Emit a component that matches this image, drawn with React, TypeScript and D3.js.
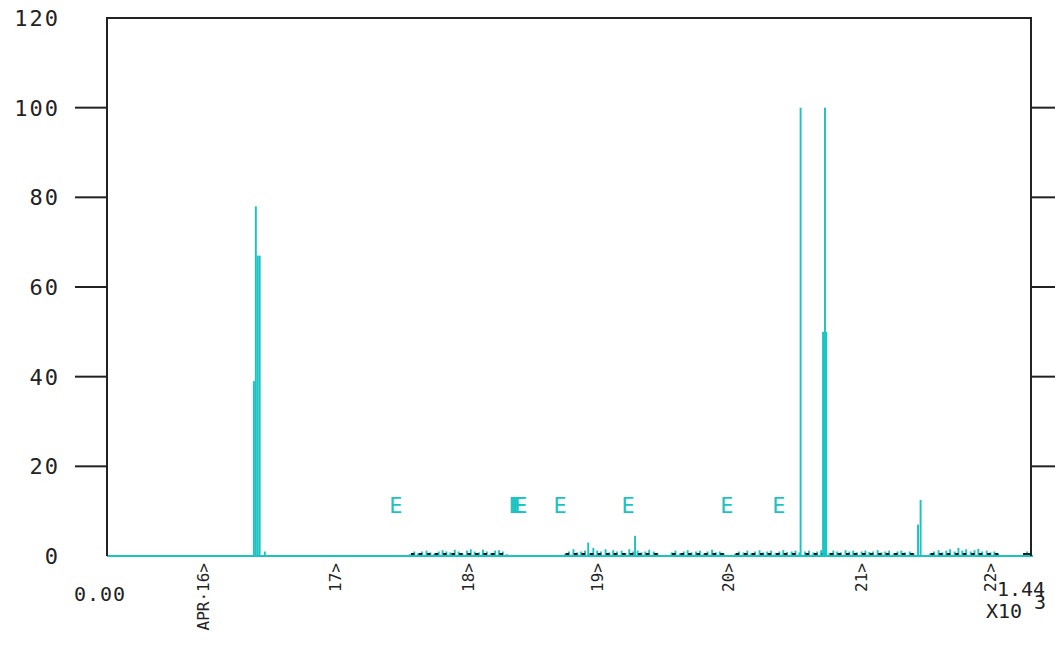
import React from "react";
import * as d3 from "d3";

const yTicks = [0, 20, 40, 60, 80, 100, 120];
const xTickPos = [150, 355, 562, 764, 968, 1175, 1376];
const xTickLabels = ["APR·16>", "17>", "18>", "19>", "20>", "21>", "22>"];

// main spikes: position (x units) and value
const spikeX = [229, 232, 235, 238, 246, 750, 823, 1081, 1116, 1119, 1121, 1264, 1268, 1434];
const spikeV = [39, 78, 67, 67, 1, 3, 4.5, 100, 50, 100, 50, 7, 12.5, 1];

// low-level noise
const noiseX = [
  472, 479, 485, 491, 498, 504, 510, 517, 523, 529, 535, 542, 548, 554, 561, 567, 573, 580, 586, 592, 598, 605, 611, 617, 623,
  714, 720, 727, 733, 739, 745, 752, 758, 764, 770, 777, 783, 789, 795, 802, 808, 814, 820, 827, 833, 839, 845, 852, 858,
  880, 886, 893, 899, 905, 911, 918, 924, 930, 936, 943, 949, 955, 961,
  979, 985, 992, 998, 1004, 1010, 1017, 1023, 1029, 1035, 1042, 1048, 1054, 1060, 1067, 1073, 1079,
  1088, 1094, 1101, 1107, 1113, 1119, 1126, 1132, 1138, 1144, 1151, 1157, 1163, 1169, 1176, 1182, 1188, 1194, 1201, 1207, 1213, 1219, 1226, 1232, 1238, 1244, 1251, 1257,
  1283, 1289, 1296, 1302, 1308, 1314, 1321, 1327, 1333, 1339, 1346, 1352, 1358, 1364, 1371, 1377, 1383, 1389,
];
const noiseV = [
  0.4, 1, 0.6, 1, 1.2, 0.8, 0.5, 1, 1.3, 1, 0.8, 1.4, 1, 0.6, 1.2, 1.5, 1, 0.8, 1.4, 1, 0.6, 1.2, 1.3, 1, 0.4,
  0.5, 1, 1.5, 0.8, 1, 1.2, 0.6, 1.8, 1.2, 1, 1.5, 0.8, 1.3, 1, 1.2, 0.7, 1.5, 1, 1.2, 0.8, 1, 1.4, 1, 0.6,
  0.8, 1.2, 0.6, 1, 1.3, 0.8, 1, 1.2, 0.5, 1, 1.4, 0.8, 1, 0.6,
  0.5, 1, 0.8, 1.2, 0.6, 1, 1.3, 0.8, 1, 1.2, 0.7, 1, 1.3, 0.9, 1, 1.2, 0.8,
  1, 1.2, 0.8, 1, 1.3, 1, 0.7, 1.2, 1, 0.8, 1.3, 1, 1.2, 0.8, 1, 1.2, 0.9, 1, 1.3, 0.8, 1, 1.2, 0.6, 1, 1.2, 0.8, 1, 0.6,
  0.6, 1, 1.3, 0.8, 1.2, 1.5, 1, 1.8, 1.2, 1.5, 1, 1.3, 1.6, 1, 1.2, 0.8, 1, 0.5,
];

// black baseline marks
const blackX = [
  476, 488, 501, 513, 526, 539, 551, 564, 576, 589, 601, 614,
  717, 730, 742, 755, 767, 780, 792, 805, 817, 830, 842, 855,
  883, 896, 908, 921, 933, 946, 958,
  982, 995, 1007, 1020, 1032, 1045, 1057, 1070,
  1091, 1104, 1116, 1129, 1141, 1154, 1166, 1179, 1191, 1204, 1216, 1229, 1241, 1254,
  1286, 1299, 1311, 1324, 1336, 1349, 1361, 1374, 1386, 1430, 1436,
];

// "E" event markers
const eventX = [450, 636, 639, 642, 645, 706, 812, 966, 1047];
const eventLevel = 11.4;

const CYAN = "#1cc3c3";
const INK = "#222";
const FONT = "'DejaVu Sans Mono', 'Liberation Mono', monospace";

export default function App() {
  const left = 107, right = 1031, top = 18, bottom = 556;
  const x = d3.scaleLinear().domain([0, 1440]).range([left, right]);
  const y = d3.scaleLinear().domain([0, 120]).range([bottom, top]);
  const binW = (u: number, w: number) => Math.max(1.6, x(u + w) - x(u));

  return (
    <svg width={1055} height={645} style={{ position: "absolute", left: 0, top: 0, background: "#fff" }}>
      <rect x={0} y={0} width={1055} height={645} fill="#fff" />
      {/* noise bars */}
      {noiseX.map((u, i) => (
        <rect key={"n" + i} x={x(u) - 1} y={y(noiseV[i])} width={binW(u, 3)} height={y(0) - y(noiseV[i])} fill={CYAN} />
      ))}
      {/* black marks */}
      {blackX.map((u, i) => (
        <rect key={"b" + i} x={x(u) - 1.5} y={y(0) - 3} width={3.5} height={2} fill="#111" />
      ))}
      {/* spikes */}
      {spikeX.map((u, i) => (
        <rect key={"s" + i} x={x(u) - 1} y={y(spikeV[i])} width={binW(u, 3)} height={y(0) - y(spikeV[i])} fill={CYAN} />
      ))}
      {/* baseline */}
      <line x1={left} x2={right + 2} y1={y(0)} y2={y(0)} stroke={CYAN} strokeWidth={2} />
      {/* frame */}
      <path d={`M${left},${bottom} V${top} H${right} V${bottom}`} fill="none" stroke={INK} strokeWidth={2} />
      <line x1={right - 6} x2={right} y1={bottom - 2} y2={bottom - 2} stroke={INK} strokeWidth={2} />
      {/* y ticks */}
      {yTicks.filter((t) => t > 0 && t < 120).map((t) => (
        <g key={"yt" + t}>
          <line x1={75} x2={left} y1={y(t)} y2={y(t)} stroke={INK} strokeWidth={2} />
          <line x1={right} x2={1055} y1={y(t)} y2={y(t)} stroke={INK} strokeWidth={2} />
        </g>
      ))}
      {yTicks.map((t) => (
        <text key={"yl" + t} x={60} y={y(t)} dy="0.36em" textAnchor="end" fontFamily={FONT} fontSize={22} letterSpacing={2} fill={INK}>
          {t}
        </text>
      ))}
      {/* x labels */}
      <text x={100} y={601} textAnchor="middle" fontFamily={FONT} fontSize={20} letterSpacing={1} fill={INK}>0.00</text>
      {xTickPos.map((u, i) => (
        <text key={"xl" + i} transform={`translate(${x(u) + 6},563) rotate(-90)`} textAnchor="end" fontFamily={FONT} fontSize={16} fill={INK}>
          {xTickLabels[i]}
        </text>
      ))}
      <text x={997} y={596} fontFamily={FONT} fontSize={20} fill={INK}>1.44</text>
      <text x={986} y={618} fontFamily={FONT} fontSize={20} fill={INK}>X10</text>
      <text x={1034} y={609} fontFamily={FONT} fontSize={20} fill={INK}>3</text>
      {/* events */}
      {eventX.map((u, i) => (
        <text key={"e" + i} x={x(u)} y={y(eventLevel)} dy="0.36em" textAnchor="middle" fontFamily={FONT} fontSize={22} fill={CYAN}>
          E
        </text>
      ))}
    </svg>
  );
}
